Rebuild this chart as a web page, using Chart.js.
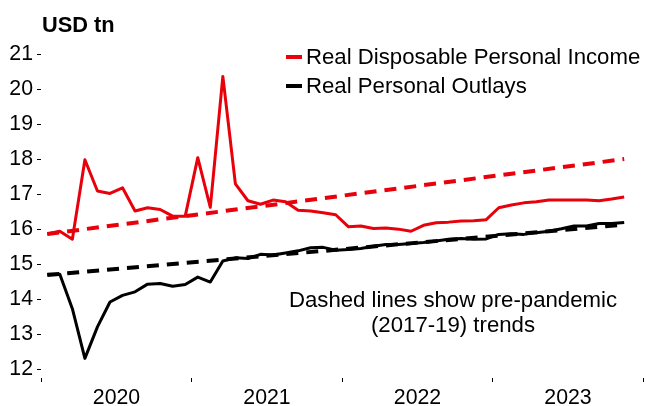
<!DOCTYPE html>
<html>
<head>
<meta charset="utf-8">
<script src="https://cdn.jsdelivr.net/npm/chart.js@4"></script>
<style>
  html, body { margin: 0; padding: 0; background: #ffffff; }
  #wrap { width: 646px; height: 406px; position: relative; }
</style>
</head>
<body>
<div id="wrap"><canvas id="c"></canvas></div>
<script>
// ---- Data ----
const months = [
  '2020-01','2020-02','2020-03','2020-04','2020-05','2020-06','2020-07','2020-08','2020-09','2020-10','2020-11','2020-12',
  '2021-01','2021-02','2021-03','2021-04','2021-05','2021-06','2021-07','2021-08','2021-09','2021-10','2021-11','2021-12',
  '2022-01','2022-02','2022-03','2022-04','2022-05','2022-06','2022-07','2022-08','2022-09','2022-10','2022-11','2022-12',
  '2023-01','2023-02','2023-03','2023-04','2023-05','2023-06','2023-07','2023-08','2023-09','2023-10','2023-11'
];
const incomeValues = [
  15.86, 15.94, 15.71, 17.98, 17.09, 17.02, 17.18, 16.52, 16.61, 16.56, 16.37, 16.37,
  18.04, 16.62, 20.36, 17.29, 16.81, 16.71, 16.83, 16.78, 16.54, 16.52, 16.47, 16.41,
  16.07, 16.09, 16.02, 16.03, 16.00, 15.94, 16.11, 16.18, 16.20, 16.23, 16.24, 16.27,
  16.61, 16.69, 16.75, 16.78, 16.83, 16.83, 16.83, 16.83, 16.81, 16.86, 16.92
];
const outlaysValues = [
  14.71, 14.71, 13.73, 12.31, 13.21, 13.92, 14.11, 14.21, 14.43, 14.45, 14.37, 14.42,
  14.63, 14.49, 15.09, 15.18, 15.16, 15.28, 15.26, 15.32, 15.38, 15.47, 15.48, 15.40,
  15.42, 15.45, 15.51, 15.56, 15.56, 15.59, 15.62, 15.66, 15.71, 15.73, 15.71, 15.72,
  15.85, 15.87, 15.85, 15.90, 15.94, 16.01, 16.09, 16.09, 16.16, 16.16, 16.19
];
// Pre-pandemic (2017-19) trend lines: start and end points
const trendMonthIdx = [0, 46];
const incomeTrend = [15.86, 18.00];
const outlaysTrend = [14.69, 16.13];

const yearLabels = ['2020', '2021', '2022', '2023'];
const yearBoundaries = [-0.5, 11.5, 23.5, 35.5, 47.5];
const yTicks = [12, 13, 14, 15, 16, 17, 18, 19, 20, 21];

const seriesNames = ['Real Disposable Personal Income', 'Real Personal Outlays'];
const unitLabel = 'USD tn';
const noteLines = ['Dashed lines show pre-pandemic', '(2017-19) trends'];

// ---- Styles ----
const RED = '#e8000b';
const BLACK = '#000000';
const FONT = '"Liberation Sans", Arial, sans-serif';

const toPts = (vals) => vals.map((v, i) => ({ x: i, y: v }));
const toTrendPts = (vals) => vals.map((v, i) => ({ x: trendMonthIdx[i], y: v }));

const overlayPlugin = {
  id: 'overlay',
  afterDraw(chart) {
    const ctx = chart.ctx;
    ctx.save();
    // unit label
    ctx.fillStyle = '#000';
    ctx.font = 'bold 21.8px ' + FONT;
    ctx.textAlign = 'left';
    ctx.textBaseline = 'alphabetic';
    ctx.fillText(unitLabel, 42, 32);
    // legend
    const items = [
      { text: seriesNames[0], color: RED, y: 57 },
      { text: seriesNames[1], color: BLACK, y: 86 }
    ];
    ctx.font = '22.2px ' + FONT;
    ctx.textBaseline = 'middle';
    items.forEach(it => {
      ctx.strokeStyle = it.color;
      ctx.lineWidth = 4;
      ctx.beginPath();
      ctx.moveTo(286, it.y);
      ctx.lineTo(302, it.y);
      ctx.stroke();
      ctx.fillStyle = '#000';
      ctx.fillText(it.text, 306, it.y + 1);
    });
    // note
    ctx.textAlign = 'center';
    ctx.textBaseline = 'alphabetic';
    ctx.fillText(noteLines[0], 453, 307);
    ctx.fillText(noteLines[1], 453, 332);
    ctx.restore();
  }
};

new Chart(document.getElementById('c'), {
  type: 'line',
  data: {
    datasets: [
      { label: seriesNames[0] + ' trend', data: toTrendPts(incomeTrend), borderColor: RED, borderWidth: 4, borderDash: [12, 8], pointRadius: 0, spanGaps: true },
      { label: seriesNames[1] + ' trend', data: toTrendPts(outlaysTrend), borderColor: BLACK, borderWidth: 4, borderDash: [12, 8], pointRadius: 0, spanGaps: true },
      { label: seriesNames[0], data: toPts(incomeValues), borderColor: RED, borderWidth: 3, pointRadius: 0, tension: 0, borderJoinStyle: 'round' },
      { label: seriesNames[1], data: toPts(outlaysValues), borderColor: BLACK, borderWidth: 3, pointRadius: 0, tension: 0, borderJoinStyle: 'round' }
    ]
  },
  options: {
    responsive: true,
    maintainAspectRatio: false,
    animation: false,
    layout: { padding: { top: 54, right: 1, bottom: 0, left: 0 } },
    plugins: { legend: { display: false }, tooltip: { enabled: false } },
    scales: {
      x: {
        type: 'linear',
        min: -0.5,
        max: 47.5,
        afterBuildTicks(scale) { scale.ticks = yearBoundaries.map(v => ({ value: v })); },
        afterFit(scale) { scale.height = 28; },
        border: { display: false },
        grid: { display: true, drawOnChartArea: false, tickLength: 4, color: '#000', lineWidth: 1 },
        ticks: {
          autoSkip: false,
          maxRotation: 0,
          padding: 3,
          labelOffset: 75.5,
          color: '#000',
          font: { family: FONT, size: 21.3 },
          callback(value) {
            const i = yearBoundaries.indexOf(value);
            return i >= 0 && i < yearLabels.length ? yearLabels[i] : '';
          }
        }
      },
      y: {
        min: 11.75,
        max: 21,
        afterBuildTicks(scale) { scale.ticks = yTicks.map(v => ({ value: v })); },
        afterFit(scale) { scale.width = 41; },
        border: { display: false },
        grid: { display: true, drawOnChartArea: false, tickLength: 4, color: '#000', lineWidth: 1 },
        ticks: {
          padding: 4,
          color: '#000',
          font: { family: FONT, size: 21.3 }
        }
      }
    }
  },
  plugins: [overlayPlugin]
});
</script>
</body>
</html>
